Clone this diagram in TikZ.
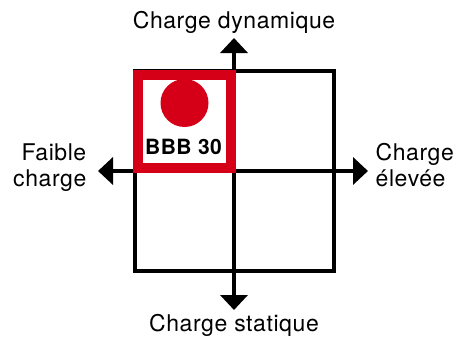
\documentclass[tikz,border=0pt]{standalone}
\usepackage{fontspec}
\setmainfont{TeX Gyre Heros}[LetterSpace=2.5]
\usetikzlibrary{arrows.meta}
\definecolor{bbbred}{RGB}{213,0,23}
\begin{document}
\begin{tikzpicture}[x=1pt, y=-1pt, font=\fontsize{23}{26}\selectfont,
  axis/.style={line width=4pt, {Triangle[length=15pt,width=27pt]}-{Triangle[length=15pt,width=27pt]}}]

\useasboundingbox (0,0) rectangle (459,340);

\coordinate (up) at (234,38);
\coordinate (down) at (234,310);
\coordinate (left) at (98,171);
\coordinate (right) at (368,171);

\begin{scope}[line width=4pt]
\draw (134.5,71) rectangle (334,271);
\end{scope}
\draw [axis] (up) -- (down);
\draw [axis] (left) -- (right);

\node [draw=bbbred, line width=10pt, minimum size=93pt, inner sep=0] (bbb) at (184.5,121) {};
\node [circle, fill=bbbred, minimum size=48pt, inner sep=0] (dot) at (184.5,103) {};
\node [anchor=base, font=\fontsize{21}{21}\selectfont\bfseries] (name) at (183.5,154.3) {BBB 30};

\node [anchor=base] (dyn) at (234,28) {Charge dynamique};
\node [anchor=base] (stat) at (234,331.5) {Charge statique};
\node [anchor=base east, align=right, inner sep=0] (low) at (86.5,186.7) {Faible\\charge};
\node [anchor=base west, align=left, inner sep=0] (high) at (375.5,186.7) {Charge\\élevée};

\end{tikzpicture}
\end{document}
